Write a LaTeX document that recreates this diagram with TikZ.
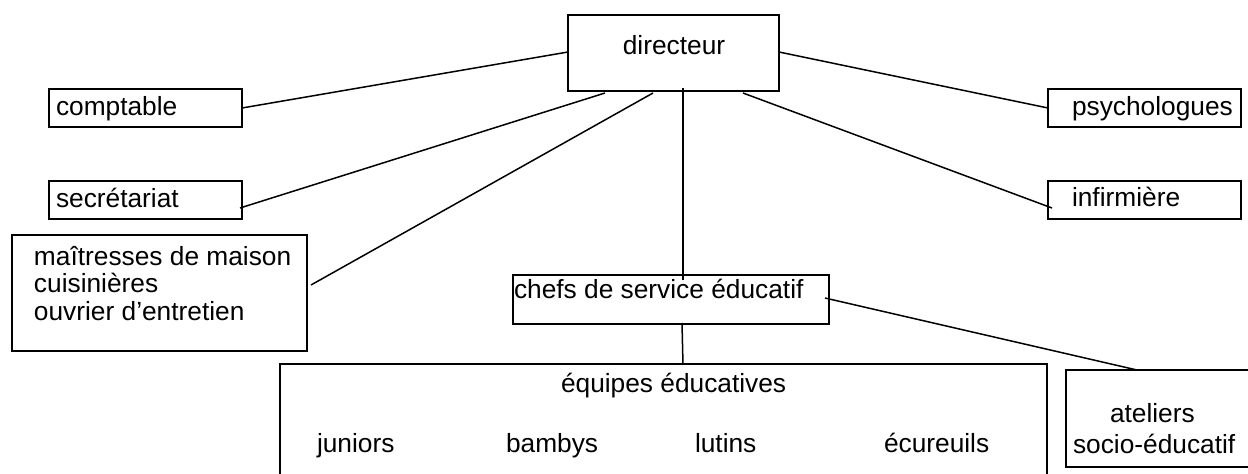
\documentclass[tikz,border=0pt]{standalone}
\usepackage{fontspec}
\setmainfont{Liberation Sans}
\usetikzlibrary{calc}
\tikzset{
  box/.style={draw=black, line width=1.5pt, inner sep=0pt, outer sep=0pt, anchor=north west},
  txt/.style={inner sep=0pt, outer sep=0pt, anchor=base west, font=\fontsize{26.3}{28}\selectfont},
  link/.style={draw=black, line width=1.5pt}
}
\begin{document}
\begin{tikzpicture}[x=1pt,y=-1pt]
\clip (0,0) rectangle (1248,474);
\fill[white] (0,0) rectangle (1248,474);
% boxes
\node[box, minimum width=211pt, minimum height=76pt] (dir) at (568,15) {};
\node[box, minimum width=193pt, minimum height=38pt] (comp) at (49,89) {};
\node[box, minimum width=193pt, minimum height=38pt] (sec) at (49,181) {};
\node[box, minimum width=295pt, minimum height=116pt] (mai) at (12,235) {};
\node[box, minimum width=193pt, minimum height=38pt] (psy) at (1048,89) {};
\node[box, minimum width=193pt, minimum height=38pt] (inf) at (1048,181) {};
\node[box, minimum width=316pt, minimum height=49pt] (chefs) at (513,275) {};
\node[box, minimum width=767pt, minimum height=130pt] (equ) at (280,364) {};
\node[box, minimum width=183pt, minimum height=97pt] (ate) at (1066,370) {};
% texts
\node[txt, anchor=base] (tdir) at (674,54) {directeur};
\node[txt] (tcomp) at (56,115) {comptable};
\node[txt] (tsec) at (56,207) {secrétariat};
\node[txt] (tpsy) at (1072,115) {psychologues};
\node[txt] (tinf) at (1072,206) {infirmière};
\node[txt] (tmai1) at (34,265) {maîtresses de maison};
\node[txt] (tmai2) at (34,292) {cuisinières};
\node[txt] (tmai3) at (34,320) {ouvrier d’entretien};
\node[txt] (tchefs) at (514,298) {chefs de service éducatif};
\node[txt] (tequ) at (561,392) {équipes éducatives};
\node[txt] (tjun) at (317,452) {juniors};
\node[txt] (tbam) at (506,452) {bambys};
\node[txt] (tlut) at (695,452) {lutins};
\node[txt] (tecu) at (884,452) {écureuils};
\node[txt] (tate1) at (1110,422) {ateliers};
\node[txt] (tate2) at (1073,453) {socio-éducatif};
% connectors
\draw[link] ($(dir.north west)+(0,37)$) -- (comp.east);
\draw[link] ($(dir.south west)+(37,2)$) -- ($(sec.east)+(-2,8)$);
\draw[link] ($(dir.south west)+(85,2)$) -- ($(mai.north east)+(4,50)$);
\draw[link] ($(dir.south west)+(115,-3)$) -- ($(chefs.north west)+(170,5)$);
\draw[link] ($(dir.north east)+(0,37)$) -- (psy.west);
\draw[link] ($(dir.south west)+(175,2)$) -- ($(inf.west)+(4,8)$);
\draw[link] ($(chefs.south west)+(169,-1)$) -- ($(equ.north west)+(403,1)$);
\draw[link] ($(chefs.north east)+(-4,23)$) -- ($(ate.north west)+(71,0)$);
\end{tikzpicture}
\end{document}
